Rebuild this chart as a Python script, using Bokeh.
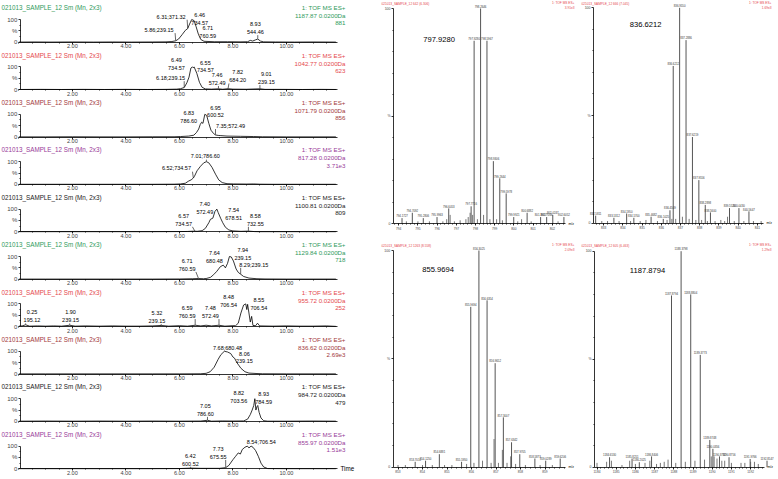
import numpy as np
from bokeh.plotting import figure
from bokeh.models import (Range1d, FixedTicker, SingleIntervalTicker, Label, ColumnDataSource)
from bokeh.layouts import row, column
from bokeh.embed import file_html
from bokeh.resources import INLINE
from bokeh.core.properties import value

FONT = "Liberation Sans"
GREEN, RED, DRED, PURP, BLACK = "#2f9a5c", "#e5484d", "#a3383b", "#983a98", "#1a1a1a"

# ---------------- chromatogram data ----------------
chrom_colors = [GREEN, RED, DRED, PURP, BLACK, GREEN, RED, DRED, BLACK, PURP]
chrom_title = "021013_SAMPLE_12 Sm (Mn, 2x3)"
chrom_func = "1: TOF MS ES+"
chrom_mass = ["1187.87 0.0200Da", "1042.77 0.0200Da", "1071.79 0.0200Da", "817.28 0.0200Da",
              "1100.81 0.0200Da", "1129.84 0.0200Da", "955.72 0.0200Da", "836.62 0.0200Da",
              "984.72 0.0200Da", "855.97 0.0200Da"]
chrom_max = ["881", "623", "856", "3.71e3", "809", "718", "252", "2.69e3", "479", "1.51e3"]
x_ticks = [2, 4, 6, 8, 10]

t1 = [0.0, 0.6, 1.2, 2.0, 2.8, 3.5, 4.2, 5.0, 5.5, 5.72, 5.86, 5.97, 6.10, 6.22, 6.31, 6.38, 6.46, 6.55,
      6.62, 6.71, 6.80, 6.92, 7.30, 7.80, 8.30, 8.55, 8.65, 8.74, 8.84, 8.93, 9.03, 9.15, 9.60, 10.3, 11.0, 11.85]
i1 = [0.5, 1, 0.5, 1, 0.5, 1, 0.5, 1, 1.5, 3, 6, 14, 33, 52, 60, 80, 100, 95,
      70, 35, 12, 4, 2, 2, 1.5, 2, 8, 5, 10, 14, 5, 1.5, 1, 0.5, 1, 0.5]
t2 = [0.0, 0.8, 1.6, 2.4, 3.2, 4.0, 4.8, 5.5, 5.9, 6.04, 6.18, 6.28, 6.36, 6.43, 6.49, 6.52, 6.55, 6.65,
      6.75, 6.85, 6.97, 7.20, 7.46, 7.62, 7.82, 8.00, 8.50, 9.01, 9.20, 9.80, 10.6, 11.3, 11.85]
i2 = [0.5, 1, 0.5, 1, 0.5, 1, 0.5, 1, 2, 4, 9, 30, 55, 95, 100, 96, 100, 72,
      32, 10, 3, 2, 3.5, 1.5, 4, 2, 1.5, 3.5, 1, 1, 0.5, 1, 0.5]
t3 = [0.0, 1.0, 2.0, 3.0, 4.0, 5.0, 5.8, 6.04, 6.35, 6.54, 6.64, 6.72, 6.78, 6.83, 6.88, 6.95, 7.02, 7.10,
      7.18, 7.28, 7.35, 7.45, 7.55, 7.78, 8.28, 8.78, 9.10, 10.0, 11.0, 11.85]
i3 = [0.5, 0.5, 1, 0.5, 0.5, 1, 1, 2, 4, 8, 20, 35, 55, 65, 60, 100, 95, 60,
      30, 15, 9, 7, 6, 4, 3, 2, 1, 0.5, 0.5, 0.5]
t4 = [0.0, 1.0, 2.0, 3.0, 4.0, 5.0, 5.8, 6.04, 6.22, 6.35, 6.44, 6.52, 6.56, 6.66, 6.79, 6.91, 7.01, 7.10,
      7.22, 7.35, 7.47, 7.60, 7.78, 8.03, 8.50, 8.78, 9.00, 9.50, 10.5, 11.85]
i4 = [0.5, 0.5, 0.5, 0.5, 0.5, 0.5, 1, 2, 5, 15, 20, 28, 35, 60, 80, 95, 100, 95,
      75, 45, 20, 8, 3, 2, 1.5, 2, 1, 0.5, 0.5, 0.5]
t5 = [0.0, 1.0, 2.0, 3.0, 4.0, 5.0, 6.0, 6.30, 6.57, 6.66, 6.85, 6.97, 7.10, 7.16, 7.25, 7.33, 7.40, 7.45,
      7.54, 7.62, 7.72, 7.85, 8.00, 8.30, 8.58, 8.80, 9.00, 10.0, 11.0, 11.85]
i5 = [0.5, 0.5, 0.5, 0.5, 0.5, 0.5, 1, 1.5, 3, 2, 5, 15, 40, 55, 60, 90, 100, 85,
      60, 40, 20, 8, 4, 2, 3, 1, 0.5, 0.5, 0.5, 0.5]
t6 = [0.0, 1.0, 2.0, 3.0, 4.0, 5.0, 6.0, 6.50, 6.71, 6.90, 7.00, 7.16, 7.28, 7.40, 7.53, 7.64, 7.72, 7.80,
      7.87, 7.94, 8.02, 8.12, 8.20, 8.29, 8.40, 8.60, 8.90, 9.20, 10.0, 11.0, 11.85]
i6 = [0.5, 0.5, 0.5, 0.5, 0.5, 0.5, 1, 2, 3, 2, 3, 8, 20, 35, 55, 62, 50, 70,
      100, 98, 80, 45, 30, 22, 12, 5, 2, 1, 0.5, 0.5, 0.5]
t7 = [0.0, 0.12, 0.25, 0.40, 0.70, 1.00, 1.30, 1.60, 1.90, 2.10, 2.50, 3.00, 3.50, 4.00, 4.50, 5.00,
      5.32, 5.60, 6.00, 6.30, 6.59, 6.80, 7.00, 7.20, 7.48, 7.70, 8.00, 8.10, 8.20, 8.30, 8.40, 8.48,
      8.52, 8.55, 8.60, 8.65, 8.70, 8.75, 8.85, 8.92, 9.00, 9.50, 10.0, 10.5, 11.0, 11.5, 11.85]
i7 = [2, 3, 8, 2, 3, 2, 3, 2, 6, 2, 3, 2, 3, 2, 2, 3,
      5, 2, 4, 2, 6, 3, 6, 3, 6, 2, 4, 4, 15, 60, 95, 100,
      75, 98, 60, 20, 45, 5, 4, 15, 3, 2, 3, 2, 2, 3, 1]
t8 = [0.0, 1.0, 2.0, 3.0, 4.0, 5.0, 6.0, 6.80, 7.00, 7.15, 7.30, 7.45, 7.55, 7.68, 7.80, 7.92, 8.00,
      8.06, 8.15, 8.30, 8.45, 8.60, 8.90, 9.10, 10.0, 11.0, 11.85]
i8 = [0.5, 0.5, 0.5, 0.5, 0.5, 0.5, 0.5, 1, 3, 10, 30, 65, 85, 100, 97, 90, 75,
      70, 50, 25, 10, 4, 2, 1, 0.5, 0.5, 0.5]
t9 = [0.0, 1.0, 2.0, 3.0, 4.0, 5.0, 6.0, 6.80, 7.05, 7.20, 7.60, 8.00, 8.40, 8.55, 8.65, 8.72, 8.78,
      8.82, 8.86, 8.90, 8.93, 8.98, 9.05, 9.15, 9.30, 10.0, 11.0, 11.85]
i9 = [1, 1.5, 1, 1.5, 1, 1.5, 1, 1.5, 5, 1, 2, 1.5, 2, 10, 30, 50, 70,
      100, 50, 65, 70, 40, 15, 3, 1, 1, 1.5, 1]
t10 = [0.0, 1.0, 2.0, 3.0, 4.0, 5.0, 6.0, 6.42, 6.80, 7.50, 7.73, 7.85, 8.00, 8.10, 8.20, 8.28, 8.35,
       8.45, 8.54, 8.60, 8.68, 8.75, 8.85, 8.95, 9.05, 9.15, 9.30, 10.0, 11.0, 11.85]
i10 = [0.5, 0.5, 0.5, 0.5, 0.5, 0.5, 1, 3, 2, 2, 5, 15, 40, 55, 70, 65, 85,
       95, 100, 92, 100, 95, 80, 55, 25, 8, 1, 0.5, 0.5, 0.5]

chrom_times = [t1, t2, t3, t4, t5, t6, t7, t8, t9, t10]
chrom_ints = [i1, i2, i3, i4, i5, i6, i7, i8, i9, i10]

# peak annotation texts
ann_text = [
    ["5.86;239.15", "6.31;371.32", "6.46\n734.57", "6.71\n760.59", "8.93\n544.46"],
    ["6.18;239.15", "6.49\n734.57", "6.55\n734.57", "7.46\n572.49", "7.82\n684.20", "9.01\n239.15"],
    ["6.83\n786.60", "6.95\n600.52", "7.35;572.49"],
    ["7.01;786.60", "6.52;734.57"],
    ["7.40\n572.49", "6.57\n734.57", "7.54\n678.51", "8.58\n732.55"],
    ["6.71\n760.59", "7.64\n680.48", "7.94\n239.15", "8.29;239.15"],
    ["0.25\n195.12", "1.90\n239.15", "5.32\n239.15", "6.59\n760.59", "7.48\n572.49", "8.48\n706.54", "8.55\n706.54"],
    ["7.68;680.48", "8.06\n239.15"],
    ["7.05\n786.60", "8.82\n703.56", "8.93\n784.59"],
    ["6.42\n600.52", "7.73\n675.55", "8.54;706.54"],
]
# annotation text anchor (centre x in minutes, bottom y in %)  -- placement only
ann_x = [[5.24, 5.69, 6.76, 7.06, 8.84], [5.67, 5.89, 6.97, 7.41, 8.18, 9.25], [6.35, 7.35, 7.91],
         [6.97, 5.89], [6.95, 6.16, 8.03, 8.84], [6.29, 7.31, 8.37, 8.78],
         [0.49, 1.93, 5.16, 6.29, 7.16, 7.84, 8.97], [7.80, 8.43], [6.97, 8.22, 9.15], [6.41, 7.45, 9.06]]
ann_y = [[41, 100, 73, 15, 32], [38, 81, 71, 17, 28, 21], [58, 82, 36],
         [110, 57], [73, 23, 48, 23], [33, 66, 80, 51],
         [15, 15, 12, 34, 34, 82, 70], [103, 42], [21, 76, 74], [10, 40, 104]]

# ---------------- spectrum data ----------------
sp_titles = ["021013_SAMPLE_12 642 (6.306)", "021013_SAMPLE_12 666 (7.045)",
             "021013_SAMPLE_12 1263 (8.558)", "021013_SAMPLE_12 605 (6.463)"]
sp_max = ["3.91e3", "1.69e3", "2.09e3", "1.29e3"]
sp_big = ["797.9280", "836.6212", "855.9694", "1187.8794"]

sp1_mz = [794.1727, 794.7092, 795.2806, 795.9963, 796.6053, 797.7716, 797.9280, 798.2646, 798.5967,
          798.9306, 799.2644, 799.5978, 799.9921, 800.6882, 801.3917, 801.7066, 802.0247, 802.6052]
sp1_int = [2.5, 5, 2.5, 3, 7, 8, 85, 100, 85, 29, 21, 14, 3, 5, 3, 3, 4, 3]
sp1_mz_minor = [794.4, 795.0, 795.6, 796.3, 796.5, 796.68, 796.9, 797.2, 797.5, 797.62, 797.72, 797.85,
                798.1, 798.42, 798.75, 799.1, 799.4, 800.2, 800.4, 800.9, 802.3]
sp1_int_minor = [1, 1, 1, 1, 2, 4, 1, 1.5, 2, 3, 5, 4, 2, 4, 2, 2, 1.5, 1, 2, 1, 1]

sp2_mz = [832.5811, 833.5312, 834.1950, 834.5700, 835.4682, 836.1025, 836.4509, 836.6212, 836.9550,
          837.2886, 837.6219, 837.9556, 838.2898, 838.5600, 839.5524, 840.0430, 840.5647]
sp2_int = [3.5, 2.5, 4.5, 2.5, 3, 2, 6, 73, 100, 85, 40, 20, 8.5, 5, 7, 7, 5.5]
sp2_mz_minor = [832.9, 833.2, 833.8, 834.4, 834.9, 835.2, 835.8, 836.3, 836.55, 836.75, 837.1, 837.45,
                837.8, 838.1, 838.4, 838.8, 839.1, 839.3, 839.45, 839.8, 840.3, 840.8, 841.2]
sp2_int_minor = [1, 1, 1, 1, 1, 1.5, 1, 1.5, 2, 2, 3, 2, 1.5, 1.5, 1, 1, 1.5, 1, 3, 1, 1, 1, 1]

sp3_mz = [853.7010, 854.1250, 854.6881, 855.5950, 855.9694, 856.3025, 856.6354, 856.9652, 857.3007,
          857.6342, 857.9705, 858.5873, 859.0289, 859.6206]
sp3_int = [2.5, 3, 6, 2.5, 74, 100, 77, 48, 23, 11.5, 6, 4, 3, 4]
sp3_mz_minor = [853.0, 853.3, 854.0, 854.4, 854.9, 855.2, 855.8, 856.1, 856.45, 856.8, 856.92, 857.1,
                857.26, 857.45, 857.6, 857.8, 858.2, 858.8, 859.3]
sp3_int_minor = [1, 1, 1, 1, 1, 1, 1.5, 2, 3, 2, 13, 2, 8, 2, 5, 1.5, 1, 1, 1]

sp4_mz = [1184.6530, 1185.8251, 1186.2025, 1186.8406, 1187.8794, 1188.3798, 1188.8804, 1189.3773,
          1189.8748, 1190.0356, 1190.3792, 1190.8756, 1191.9766, 1192.8547]
sp4_int = [4.6, 4, 2.3, 5, 79.5, 100, 80, 52, 12.6, 8.5, 5, 4.6, 3.8, 3]
sp4_mz_minor = [1184.0, 1184.5, 1184.75, 1185.3, 1185.7, 1186.0, 1186.5, 1186.75, 1187.1, 1187.3,
                1187.5, 1187.7, 1188.1, 1188.6, 1189.1, 1189.6, 1189.95, 1190.1, 1190.25, 1190.5,
                1190.65, 1191.0, 1191.5, 1191.7, 1192.0, 1192.2, 1192.4]
sp4_int_minor = [2, 2.5, 3, 1, 3, 1.5, 2, 3, 1.5, 2, 2.5, 3.5, 2, 2.5, 3, 3.5, 5, 5, 4, 3,
                 3, 2, 2, 2, 2.5, 2.5, 1.5]

sp_mz = [sp1_mz, sp2_mz, sp3_mz, sp4_mz]
sp_int = [sp1_int, sp2_int, sp3_int, sp4_int]
sp_mz_minor = [sp1_mz_minor, sp2_mz_minor, sp3_mz_minor, sp4_mz_minor]
sp_int_minor = [sp1_int_minor, sp2_int_minor, sp3_int_minor, sp4_int_minor]

# ---------------- layout / style constants ----------------
CH_W = 380
PX_MIN = 26.75      # pixels per minute
T0_PX = 18.4        # pixel of t = 0
PX_PCT = 0.227      # pixels per percent
CH_PITCH = 47.4
CH_Y0 = 41.7        # pixel row of 0 % in the first panel
CH_SHIFT = 3        # figure boundaries sit a little below each panel start
TOTAL_H = 479
ANN_FS = 5.5

SP_W = [200, 198, 200, 198]
SP_H = [240, 240, 239, 239]
sp_anchor_mz = [798.0, 837.0, 856.0, 1187.8794]
sp_anchor_px = [95, 100, 91, 91]
sp_ppu = [19.2, 19.2, 24.5, 19.2]
sp_y0 = [223, 222.7, 226.7, 226.7]
sp_y100 = [8, 7.3, 10, 10.7]
sp_yaxis_px = [13, 13, 12.7, 14]
sp_axis_end_px = [185, 183, 185, 184]
sp_big_px = [(42.7, 39), (49.3, 23.7), (41.7, 28.8), (49.3, 30)]
sp_head_y = [(3, 2.5, 6.5), (3, 2.5, 6.5), (5, 4.5, 8.5), (5, 4.5, 8.5)]
sp_head_right = [194, 191, 194, 191]


def style_axis(ax, size):
    ax.major_tick_in = 0
    ax.minor_tick_in = 0
    ax.major_label_text_font = FONT
    ax.major_label_text_font_size = size
    ax.axis_line_width = 0.8
    ax.major_tick_line_width = 0.8
    ax.minor_tick_line_width = 0.8


def leaders(k):
    """short connector from each annotation to the point of the trace it names"""
    x0, y0, x1, y1 = [], [], [], []
    for txt, ax, ay in zip(ann_text[k], ann_x[k], ann_y[k]):
        tp = float(txt.replace(";", "\n").split("\n")[0])
        ip = float(np.interp(tp, chrom_times[k], chrom_ints[k]))
        widest = max(len(s) for s in txt.split("\n"))
        half = widest * 0.53 * ANN_FS / PX_MIN / 2.0
        xe = min(max(tp, ax - half), ax + half)
        if ay > ip + 4:
            x0.append(tp); y0.append(ip + 1.5); x1.append(xe); y1.append(ay - 1)
    return x0, y0, x1, y1


def chrom_fig(k, top, H):
    y0 = CH_Y0 + k * CH_PITCH - top
    y_top = y0 / PX_PCT
    y_bot = -(H - y0) / PX_PCT
    x_start = -T0_PX / PX_MIN
    x_end = (CH_W - T0_PX) / PX_MIN
    p = figure(width=CH_W, height=H, x_range=Range1d(x_start, x_end), y_range=Range1d(y_bot, y_top),
               output_backend="svg", toolbar_location=None, min_border=0,
               outline_line_color=None, background_fill_color="white", border_fill_color="white")
    p.grid.visible = False
    col = chrom_colors[k]
    p.line(chrom_times[k], chrom_ints[k], line_color="black", line_width=0.8)
    lx0, ly0, lx1, ly1 = leaders(k)
    p.segment(x0=lx0, y0=ly0, x1=lx1, y1=ly1, line_color="black", line_width=0.6)
    src = ColumnDataSource(dict(x=ann_x[k], y=ann_y[k], text=ann_text[k]))
    p.text(x="x", y="y", text="text", source=src, text_align="center", text_baseline="bottom",
           text_font=value(FONT), text_font_size="%.1fpx" % ANN_FS, text_line_height=1.3,
           text_color="black")
    p.add_layout(Label(x=x_start + 1 / PX_MIN, y=152, text=chrom_title, text_font=FONT,
                       text_font_size="6.3px", text_color=col, text_baseline="middle"))
    for txt, yy in zip([chrom_func, chrom_mass[k], chrom_max[k]], [152, 117, 83]):
        p.add_layout(Label(x=(345 - T0_PX) / PX_MIN, y=yy, text=txt, text_font=FONT,
                           text_font_size="6.2px", text_color=col, text_align="right",
                           text_baseline="middle"))
    xa = p.xaxis[0]
    xa.fixed_location = 0
    xa.ticker = FixedTicker(ticks=x_ticks, minor_ticks=list(np.arange(0, 12.0, 0.5)))
    xa.major_label_overrides = {t: "%.2f" % t for t in x_ticks}
    xa.bounds = (0.05, (337 - T0_PX) / PX_MIN)
    xa.major_tick_out = 2
    xa.minor_tick_out = 1
    xa.major_label_standoff = 0
    style_axis(xa, "5.6px")
    ya = p.yaxis[0]
    ya.fixed_location = 0.05
    ya.ticker = FixedTicker(ticks=[0, 50, 100], minor_ticks=[25, 75])
    ya.major_label_overrides = {0: "0", 50: "%", 100: "100"}
    ya.bounds = (0, 100)
    ya.major_tick_out = 2
    ya.minor_tick_out = 1
    ya.major_label_standoff = 1
    style_axis(ya, "6px")
    if k == 9:
        p.add_layout(Label(x=(340 - T0_PX) / PX_MIN, y=0, text="Time", text_font=FONT,
                           text_font_size="6.3px", text_color="black", text_baseline="middle"))
    return p


def spec_fig(k):
    W, H = SP_W[k], SP_H[k]
    amz, apx, ppu = sp_anchor_mz[k], sp_anchor_px[k], sp_ppu[k]
    y0, y100 = sp_y0[k], sp_y100[k]
    ppp = (y0 - y100) / 100.0

    def mx(X):
        return amz + (X - apx) / ppu

    def iy(Y):
        return (y0 - Y) / ppp

    p = figure(width=W, height=H, x_range=Range1d(mx(0), mx(W)), y_range=Range1d(iy(H), iy(0)),
               output_backend="svg", toolbar_location=None, min_border=0,
               outline_line_color=None, background_fill_color="white", border_fill_color="white")
    p.grid.visible = False
    p.segment(x0=sp_mz_minor[k], y0=0, x1=sp_mz_minor[k], y1=sp_int_minor[k],
              line_color="#555555", line_width=0.8)
    p.segment(x0=sp_mz[k], y0=0, x1=sp_mz[k], y1=sp_int[k], line_color="#555555", line_width=1)
    src = ColumnDataSource(dict(x=sp_mz[k], y=[v + 0.6 for v in sp_int[k]],
                                text=["%.4f" % m for m in sp_mz[k]]))
    p.text(x="x", y="y", text="text", source=src, text_align="center", text_baseline="bottom",
           text_font=value(FONT), text_font_size="2.8px", text_color="#333333")
    bx, by = sp_big_px[k]
    p.add_layout(Label(x=mx(bx), y=iy(by), text=sp_big[k], text_font=FONT,
                       text_font_size="7.6px", text_color="black", text_baseline="middle"))
    hy, r1, r2 = sp_head_y[k]
    p.add_layout(Label(x=mx(1), y=iy(hy), text=sp_titles[k], text_font=FONT,
                       text_font_size="3.2px", text_color=RED, text_baseline="middle"))
    p.add_layout(Label(x=mx(sp_head_right[k]), y=iy(r1), text="1: TOF MS ES+", text_font=FONT,
                       text_font_size="3.2px", text_color=RED, text_baseline="middle",
                       text_align="right"))
    p.add_layout(Label(x=mx(sp_head_right[k]), y=iy(r2), text=sp_max[k], text_font=FONT,
                       text_font_size="3.2px", text_color=RED, text_baseline="middle",
                       text_align="right"))
    p.add_layout(Label(x=mx(sp_axis_end_px[k] + 3), y=0, text="m/z", text_font=FONT,
                       text_font_size="3.4px", text_color="black", text_baseline="middle"))
    xa = p.xaxis[0]
    xa.fixed_location = 0
    xa.ticker = SingleIntervalTicker(interval=1, num_minor_ticks=5)
    xa.bounds = (mx(sp_yaxis_px[k]), mx(sp_axis_end_px[k]))
    xa.major_tick_out = 2
    xa.minor_tick_out = 1
    xa.major_label_standoff = 1
    style_axis(xa, "3.2px")
    ya = p.yaxis[0]
    ya.fixed_location = mx(sp_yaxis_px[k])
    ya.ticker = FixedTicker(ticks=[0, 50, 100], minor_ticks=[10, 20, 30, 40, 60, 70, 80, 90])
    ya.major_label_overrides = {0: "0", 50: "%", 100: "100"}
    ya.bounds = (0, 100)
    ya.major_tick_out = 2
    ya.minor_tick_out = 1
    ya.major_label_standoff = 1
    style_axis(ya, "3.5px")
    return p


tops = [0] + [int(round(k * CH_PITCH + CH_SHIFT)) for k in range(1, 10)] + [TOTAL_H]
chroms = [chrom_fig(k, tops[k], tops[k + 1] - tops[k]) for k in range(10)]
specs = [spec_fig(k) for k in range(4)]
left = column(*chroms, spacing=0)
right = column(row(specs[0], specs[1], spacing=0), row(specs[2], specs[3], spacing=0), spacing=0)
p = row(left, right, spacing=0)

open("out.html", "w").write(file_html(p, INLINE))
